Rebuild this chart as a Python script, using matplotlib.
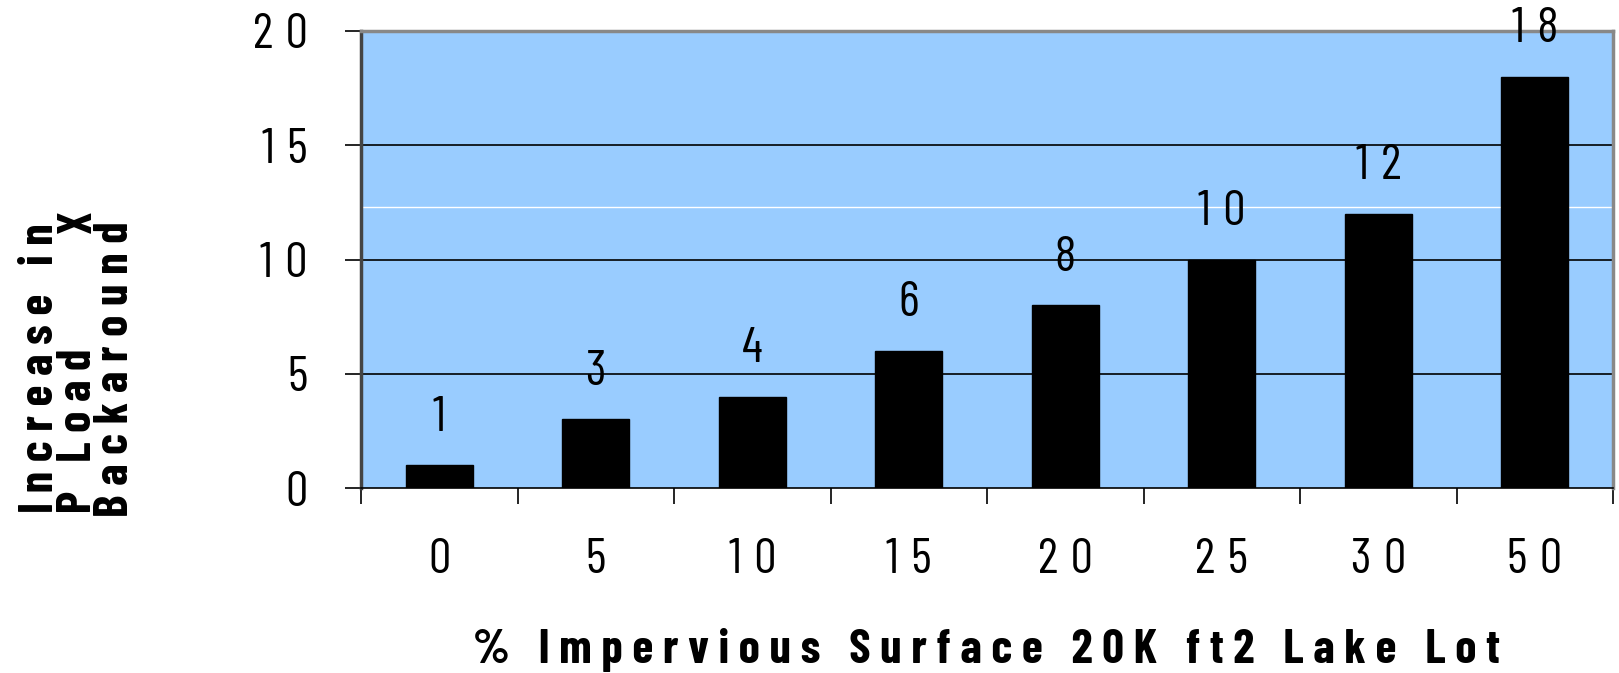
import matplotlib
matplotlib.use("Agg")
import matplotlib.pyplot as plt

impervious_pct = ["0", "5", "10", "15", "20", "25", "30", "50"]
load_increase = [1, 3, 4, 6, 8, 10, 12, 18]
y_ticks = [0, 5, 10, 15, 20]

x_title = "% Impervious Surface 20K ft2 Lake Lot"
y_title_lines = ["Increase in", "P Load", "Backaround"]

NARROW = ["Barlow Condensed", "Archivo Narrow", "DejaVu Sans"]


def spaced(text, gap=" "):
    # characters spread out with a gap between each one
    return gap.join(text)


def digits(value):
    # numbers are drawn with a slightly wider quarter-em gap between digits
    return spaced(str(value), "\u2005")


def px(x, y):
    # figure pixel position (from top-left) to figure fraction
    return x / 1619, 1 - y / 673


plt.rcParams["font.family"] = NARROW

fig = plt.figure(figsize=(16.19, 6.73), dpi=100)
ax = fig.add_axes([361 / 1619, 1 - 488 / 673, (1613 - 361) / 1619, (488 - 31) / 673])
ax.set_facecolor("#99ccff")

x = list(range(len(impervious_pct)))
ax.bar(x, load_increase, width=0.43, color="black", edgecolor="black",
       linewidth=1, zorder=3)

for xi, v in zip(x, load_increase):
    ax.annotate(digits(v), (xi, v), xytext=(0, 47), textcoords="offset pixels",
                ha="center", va="center", fontsize=36, color="black")

ax.set_xlim(-0.5, len(x) - 0.5)
ax.set_ylim(0, 20)

ax.set_yticks(y_ticks)
ax.set_yticklabels([digits(t) for t in y_ticks], fontsize=36)
ax.tick_params(axis="y", length=11.5, width=1.2, pad=27, color="black")
for t in y_ticks[1:-1]:
    ax.axhline(t, color="black", linewidth=1.2, zorder=1)
ax.axhline(12.3, color="white", linewidth=1, zorder=1)

ax.set_xticks(x)
ax.set_xticklabels([digits(s) for s in impervious_pct], fontsize=36)
ax.tick_params(axis="x", length=0, pad=36)
ax.set_xticks([i - 0.5 for i in range(len(x) + 1)], minor=True)
ax.tick_params(axis="x", which="minor", length=11.5, width=1.2, color="black")

for side in ["top", "right"]:
    ax.spines[side].set_color("#888888")
    ax.spines[side].set_linewidth(2.5)
ax.spines["left"].set_color("#444444")
ax.spines["left"].set_linewidth(2.5)
ax.spines["bottom"].set_color("black")
ax.spines["bottom"].set_linewidth(1.2)

title_font = dict(fontsize=34.5, fontweight="bold")

fig.text(*px(986, 663), "   ".join(spaced(w) for w in x_title.split()),
         ha="center", va="baseline", **title_font)

# three stacked rotated lines for the y title, each anchored on its baseline
rot = dict(rotation=90, rotation_mode="anchor", va="baseline", **title_font)
fig.text(*px(53, 513), spaced(y_title_lines[0]), ha="left", **rot)
fig.text(*px(91, 513), spaced(y_title_lines[1]), ha="left", **rot)
fig.text(*px(91, 210), "X", ha="right", **rot)
fig.text(*px(128, 517), spaced(y_title_lines[2]), ha="left", **rot)

fig.savefig("out.png", dpi=100)
